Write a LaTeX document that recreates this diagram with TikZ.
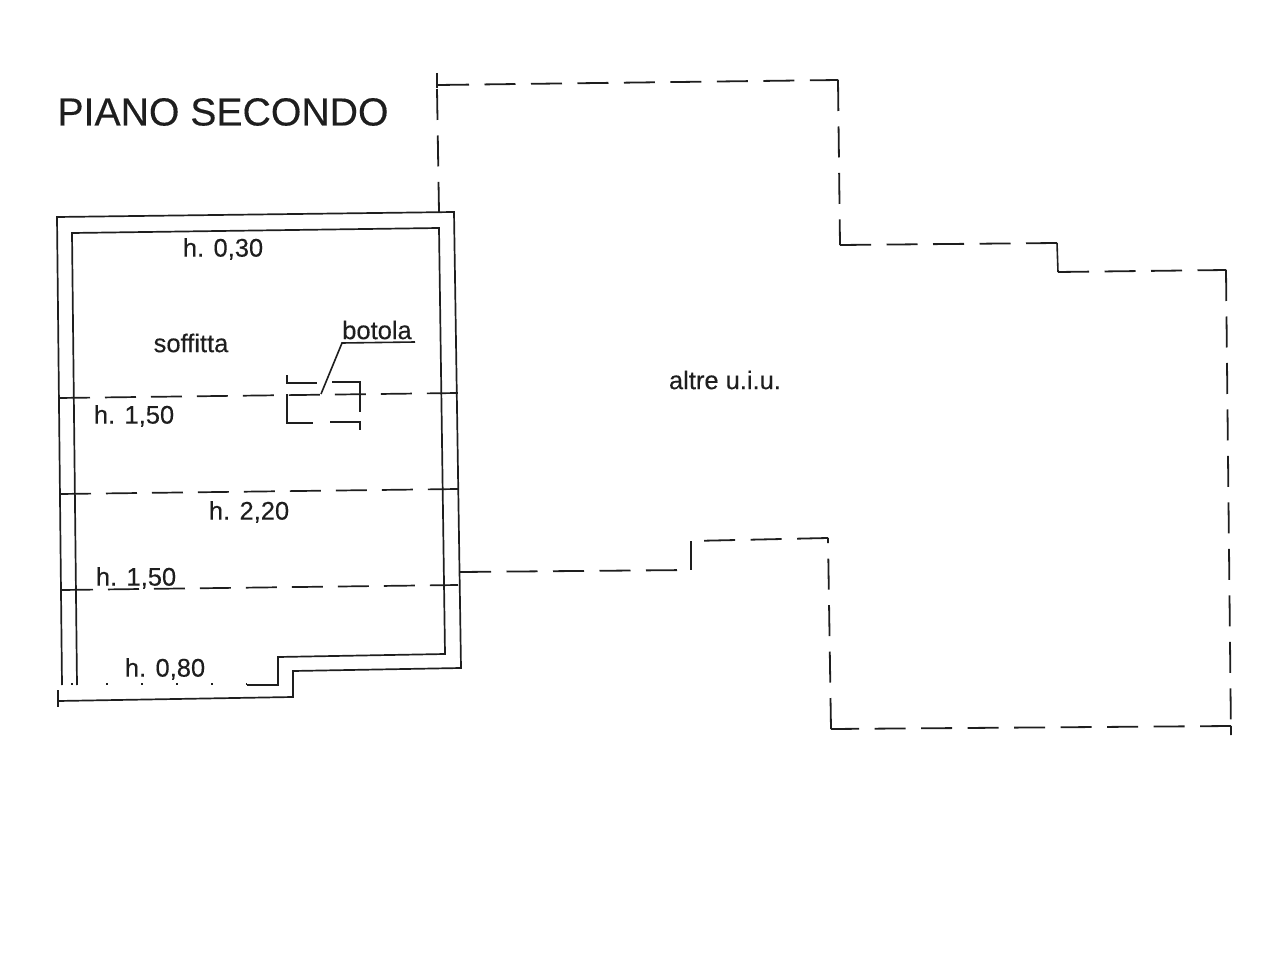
\documentclass[tikz,border=0pt]{standalone}
\usepackage{fontspec}
\setmainfont[FakeBold=0.25]{Liberation Sans}
\usepackage{tikz}
\definecolor{ink}{HTML}{1E1E1E}
\tikzset{
  % Line styles for the plan: walls, height limits and the other units
  wall line/.style={line width=1.7pt,color=ink},
  level line/.style={line width=1.7pt,color=ink,dash pattern=on 31pt off 15pt},
  other line/.style={line width=1.8pt,color=ink,dash pattern=on 31pt off 15.5pt},
  hatch line/.style={line width=1.6pt,color=ink},
  plan label/.style={inner sep=0,color=ink,font=\fontsize{25.5}{30}\selectfont},
  title label/.style={inner sep=0,color=ink,font=\fontsize{39.2}{46}\selectfont}
}

\begin{document}
\begin{tikzpicture}[x=1pt,y=-1pt]
  \useasboundingbox (0,0) rectangle (1280,960);
  % Labels
  \node(title)[title label] at (223,112) {PIANO SECONDO};
  \node(low)[plan label] at (223,249) {h. 0,30};
  \node(attic)[plan label] at (191,343) {soffitta};
  \node(hatch)[plan label] at (377,330) {botola};
  \node(midA)[plan label] at (134,416) {h. 1,50};
  \node(high)[plan label] at (249,512) {h. 2,20};
  \node(midB)[plan label] at (136,578) {h. 1,50};
  \node(edge)[plan label] at (165,669) {h. 0,80};
  \node(others)[plan label] at (725,380) {altre u.i.u.};
  % Walls
  \draw[wall line] (62,685)--(57,217)--(454,212)--(461,668)--(293,671)--(293,697)--(58,701);
  \draw[wall line] (77,685)--(72,233)--(439,228)--(445,654)--(278,657)--(278,685)--(247,685);
  \draw[wall line] (58,690)--(58,707);
  \draw[wall line,dash pattern=on 2pt off 33pt] (71,684)--(247,684);
  % Height limits
  \draw[level line] (59,398)--(458,393);
  \draw[level line] (60,494)--(458,489);
  \draw[level line] (62,590)--(458,585);
  % Hatch
  \draw[hatch line] (415,342)--(342,343)--(321,394);
  \draw[hatch line] (287,394)--(287,423)--(313,423);
  \draw[hatch line] (287,375)--(287,383)--(317,383);
  \draw[hatch line] (332,382)--(360,382)--(360,412);
  \draw[hatch line] (330,422)--(360,422)--(360,430);
  % Other units, every side starts again with a whole dash
  \draw[hatch line] (437,73)--(437,88);
  \draw[other line] (437,89)--(439,212);
  \draw[other line] (438,85)--(838,80) (838,80)--(840,245) (840,245)--(1057,243);
  \draw[hatch line] (1057,243)--(1058,272);
  \draw[other line] (1058,272)--(1226,270) (1226,270)--(1231,735);
  \draw[hatch line] (1231,726)--(1231,735);
  \draw[other line] (1231,726)--(831,729) (831,729)--(828,538) (828,538)--(691,541);
  \draw[hatch line] (691,541)--(691,570);
  \draw[other line] (460,572)--(691,570);
\end{tikzpicture}
\end{document}
